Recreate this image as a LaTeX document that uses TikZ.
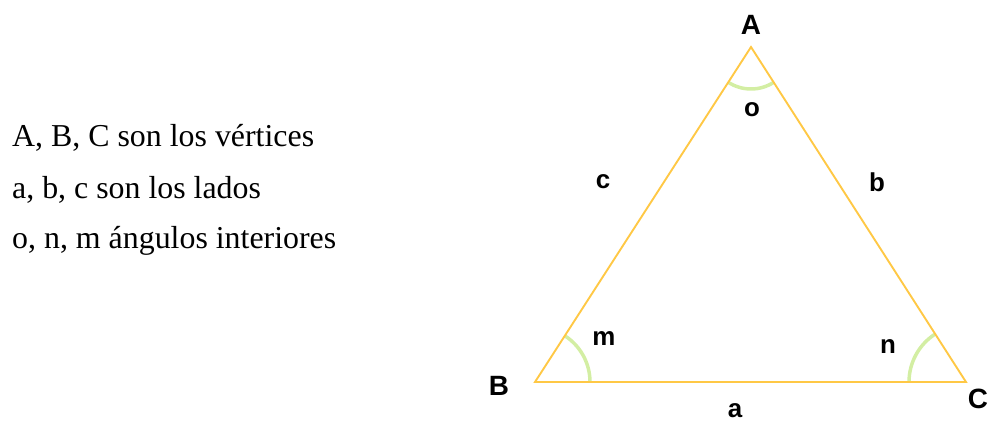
\documentclass[tikz,border=0pt]{standalone}
\usepackage{fontspec}
\setmainfont{Liberation Serif}
\newfontfamily\labelfont{Liberation Sans}
\usepackage{tikz}

\definecolor{sidecol}{HTML}{FFC845}
\definecolor{arccol}{HTML}{D3EEA3}

\begin{document}
\begin{tikzpicture}[x=1bp,y=1bp]
  \useasboundingbox (0,0) rectangle (990,423);
  \coordinate (A) at (751,376); \coordinate (B) at (535,41); \coordinate (C) at (966,41);
  % angulos interiores
  \draw[arccol,line width=3.5pt] ([shift={(237:42)}]A) arc[start angle=237,end angle=303,radius=42];
  \draw[arccol,line width=3.5pt] ([shift={(0:55)}]B) arc[start angle=0,end angle=57,radius=55];
  \draw[arccol,line width=3.5pt] ([shift={(123:57)}]C) arc[start angle=123,end angle=180,radius=57];
  \draw[sidecol,line width=1.9pt] (A) -- (B) -- (C) -- cycle;
  \node[font=\labelfont\bfseries\fontsize{28}{30}\selectfont] (lA) at (751,398) {A};
  \node[font=\labelfont\bfseries\fontsize{28}{30}\selectfont] (lB) at (499,37) {B};
  \node[font=\labelfont\bfseries\fontsize{28}{30}\selectfont,inner sep=1pt] (lC) at (978,24) {C};
  \node[font=\labelfont\bfseries\fontsize{26}{28}\selectfont] (la) at (735,12) {a};
  \node[font=\labelfont\bfseries\fontsize{26}{28}\selectfont] (lb) at (877,241) {b};
  \node[font=\labelfont\bfseries\fontsize{26}{28}\selectfont] (lc) at (603,241) {c};
  \node[font=\labelfont\bfseries\fontsize{26}{28}\selectfont] (lo) at (752,313) {o};
  \node[font=\labelfont\bfseries\fontsize{26}{28}\selectfont] (lm) at (604,84) {m};
  \node[font=\labelfont\bfseries\fontsize{26}{28}\selectfont] (ln) at (888,76) {n};
  \node[anchor=base west,inner sep=0pt,font=\fontsize{32}{36}\selectfont] (t1) at (12,277) {A, B, C son los vértices};
  \node[anchor=base west,inner sep=0pt,font=\fontsize{32}{36}\selectfont] (t2) at (12,225) {a, b, c son los lados};
  \node[anchor=base west,inner sep=0pt,font=\fontsize{32}{36}\selectfont] (t3) at (12,175) {o, n, m ángulos interiores};
\end{tikzpicture}
\end{document}
